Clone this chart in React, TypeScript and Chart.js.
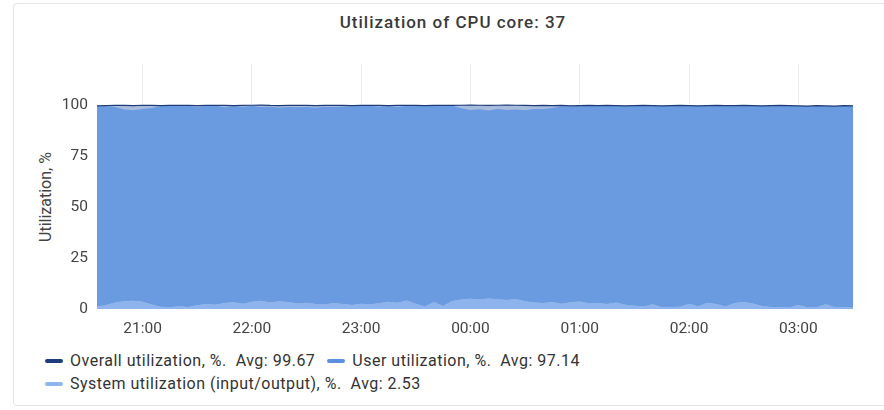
import React, { useEffect, useRef } from "react";
import { Chart, registerables } from "chart.js";

Chart.register(...registerables);

const chartTitle = "Utilization of CPU core: 37";
const yAxisTitle = "Utilization, %";

const times = [
  "20:35", "20:40", "20:45", "20:50", "20:55", "21:00", "21:05", "21:10", "21:15", "21:20",
  "21:25", "21:30", "21:35", "21:40", "21:45", "21:50", "21:55", "22:00", "22:05", "22:10",
  "22:15", "22:20", "22:25", "22:30", "22:35", "22:40", "22:45", "22:50", "22:55", "23:00",
  "23:05", "23:10", "23:15", "23:20", "23:25", "23:30", "23:35", "23:40", "23:45", "23:50",
  "23:55", "00:00", "00:05", "00:10", "00:15", "00:20", "00:25", "00:30", "00:35", "00:40",
  "00:45", "00:50", "00:55", "01:00", "01:05", "01:10", "01:15", "01:20", "01:25", "01:30",
  "01:35", "01:40", "01:45", "01:50", "01:55", "02:00", "02:05", "02:10", "02:15", "02:20",
  "02:25", "02:30", "02:35", "02:40", "02:45", "02:50", "02:55", "03:00", "03:05", "03:10",
  "03:15", "03:20", "03:25", "03:30",
];

const overall = [
  99.5, 99.6, 99.7, 99.7, 99.6, 99.8, 99.7, 99.6, 99.7, 99.8,
  99.7, 99.6, 99.7, 99.8, 99.7, 99.6, 99.7, 99.8, 99.9, 99.7,
  99.6, 99.7, 99.8, 99.7, 99.6, 99.7, 99.8, 99.7, 99.6, 99.7,
  99.8, 99.7, 99.6, 99.7, 99.8, 99.7, 99.6, 99.7, 99.8, 99.7,
  99.8, 99.9, 99.8, 99.7, 99.8, 99.9, 99.8, 99.7, 99.6, 99.7,
  99.6, 99.7, 99.5, 99.6, 99.7, 99.6, 99.7, 99.6, 99.5, 99.6,
  99.7, 99.6, 99.5, 99.6, 99.7, 99.6, 99.5, 99.6, 99.7, 99.6,
  99.6, 99.7, 99.6, 99.5, 99.6, 99.7, 99.6, 99.5, 99.4, 99.6,
  99.5, 99.4, 99.6, 99.5,
];

const user = [
  98.1, 97.3, 95.7, 93.9, 93.3, 94.4, 96.3, 98.3, 98.7, 98.3,
  98.6, 97.0, 97.1, 97.5, 95.9, 96.1, 96.4, 96.1, 94.9, 95.9,
  94.8, 95.6, 96.1, 95.8, 96.1, 96.9, 96.0, 96.8, 97.3, 96.9,
  97.3, 96.3, 95.8, 95.9, 95.4, 96.9, 98.3, 96.1, 98.2, 95.6,
  93.7, 92.5, 93.1, 92.0, 93.2, 93.1, 92.8, 93.6, 94.8, 95.0,
  95.0, 96.7, 96.0, 95.7, 96.7, 96.5, 97.1, 96.2, 97.3, 97.8,
  98.4, 97.1, 98.5, 98.5, 98.4, 96.9, 98.1, 96.3, 97.2, 98.3,
  96.4, 96.1, 96.8, 97.9, 98.5, 98.8, 98.7, 97.5, 98.5, 98.5,
  97.1, 98.5, 98.6, 98.7,
];

const system = [
  1.2, 2.0, 3.2, 3.8, 4.1, 3.6, 2.2, 1.1, 0.9, 1.3,
  1.0, 1.8, 2.4, 2.1, 2.9, 3.3, 2.6, 3.5, 4.0, 3.2,
  3.8, 3.4, 2.7, 3.1, 2.5, 2.2, 2.9, 2.4, 2.0, 2.6,
  2.3, 2.8, 3.6, 3.1, 4.2, 2.6, 1.2, 3.4, 1.5, 3.9,
  4.6, 5.0, 4.7, 5.2, 4.8, 4.4, 4.9, 3.8, 3.2, 2.9,
  3.4, 2.6, 3.3, 3.7, 2.8, 3.0, 2.4, 3.2, 2.1, 1.6,
  1.2, 2.3, 0.9, 1.0, 1.1, 2.6, 1.3, 3.1, 2.4, 1.2,
  3.0, 3.4, 2.7, 1.5, 1.0, 0.8, 0.7, 1.9, 0.8, 0.9,
  2.3, 0.8, 0.9, 0.7,
];

const yTickValues = [0, 25, 50, 75, 100];

const legendRows = [
  [
    { label: "Overall utilization, %.  Avg: 99.67", color: "#1d3c7a" },
    { label: "User utilization, %.  Avg: 97.14", color: "#5b8fdf" },
  ],
  [{ label: "System utilization (input/output), %.  Avg: 2.53", color: "#8fb5ee" }],
];

const FONT = "Roboto, 'Noto Sans', sans-serif";

export default function App() {
  const ref = useRef<HTMLCanvasElement>(null);

  useEffect(() => {
    const tickFont = { family: FONT, size: 15.5 };
    const chart = new Chart(ref.current!, {
      type: "line",
      data: {
        labels: times,
        datasets: [
          {
            label: "System utilization (input/output), %",
            data: system,
            stack: "su",
            fill: "origin",
            backgroundColor: "#8db4ec",
            borderWidth: 0,
            pointRadius: 0,
          },
          {
            label: "User utilization, %",
            data: user,
            stack: "su",
            fill: "-1",
            backgroundColor: "#6a9be0",
            borderWidth: 0,
            pointRadius: 0,
          },
          {
            label: "Overall utilization, %",
            data: overall,
            stack: "ov",
            fill: "origin",
            backgroundColor: "#a7bbdd",
            borderColor: "#1e3c78",
            borderWidth: 1.2,
            pointRadius: 0,
          },
        ],
      },
      options: {
        animation: false,
        responsive: false,
        maintainAspectRatio: false,
        layout: { padding: { top: 20, right: 17, left: 0, bottom: 0 } },
        plugins: {
          legend: { display: false },
          tooltip: { enabled: false },
          filler: { drawTime: "beforeDatasetsDraw" },
        },
        scales: {
          x: {
            grid: { color: "#ebebeb", drawTicks: false },
            border: { display: false },
            ticks: { padding: 11, maxRotation: 0, autoSkip: false, font: tickFont, color: "#444" },
            afterBuildTicks: (s: any) => {
              s.ticks = s.ticks.filter((t: any) => String(times[t.value]).endsWith(":00"));
            },
            afterFit: (s: any) => {
              s.height = 35;
            },
          },
          y: {
            stacked: true,
            min: 0,
            max: 120,
            grid: { display: false, drawTicks: false },
            border: { display: false },
            ticks: { padding: 9, font: tickFont, color: "#444" },
            afterBuildTicks: (s: any) => {
              s.ticks = yTickValues.map((v) => ({ value: v }));
            },
            afterFit: (s: any) => {
              s.width = 77;
            },
          },
        },
      },
    } as any);
    return () => chart.destroy();
  }, []);

  return (
    <div
      style={{
        position: "fixed",
        left: 0,
        top: 0,
        width: 884,
        height: 410,
        background: "#fff",
        fontFamily: FONT,
        overflow: "hidden",
      }}
    >
      <div
        style={{
          position: "absolute",
          left: 13,
          top: 3,
          width: 880,
          height: 403,
          border: "1px solid #e3e3e3",
          borderRadius: 4,
          boxSizing: "border-box",
        }}
      />
      <div
        style={{
          position: "absolute",
          left: 13,
          width: 880,
          top: 11,
          textAlign: "center",
          fontSize: 17,
          letterSpacing: 1,
          fontWeight: 500,
          color: "#3a3a3a",
          lineHeight: "22px",
        }}
      >
        {chartTitle}
      </div>
      <div
        style={{
          position: "absolute",
          left: 45,
          top: 197,
          transform: "translate(-50%, -50%) rotate(-90deg)",
          whiteSpace: "nowrap",
          fontSize: 16,
          color: "#444",
        }}
      >
        {yAxisTitle}
      </div>
      <canvas
        ref={ref}
        width={850}
        height={300}
        style={{ position: "absolute", left: 20, top: 44, width: 850, height: 300 }}
      />
      {legendRows.map((row, ri) => (
        <div
          key={ri}
          style={{
            position: "absolute",
            left: 45,
            top: 351 + ri * 23,
            display: "flex",
            alignItems: "center",
            lineHeight: "20px",
            fontSize: 16,
            letterSpacing: 0.5,
            color: "#333",
          }}
        >
          {row.map((item, ii) => (
            <div key={ii} style={{ display: "flex", alignItems: "center", marginRight: 12 }}>
              <span
                style={{
                  display: "inline-block",
                  width: 18,
                  height: 4,
                  borderRadius: 2,
                  background: item.color,
                  marginRight: 7,
                }}
              />
              <span style={{ whiteSpace: "pre" }}>{item.label}</span>
            </div>
          ))}
        </div>
      ))}
    </div>
  );
}
